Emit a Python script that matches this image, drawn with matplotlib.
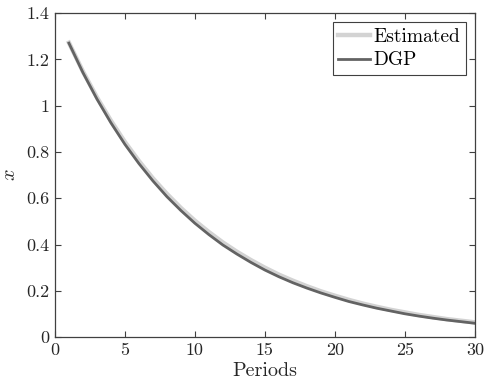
import numpy as np
import matplotlib
matplotlib.use('Agg')
from matplotlib import pyplot as plt
from matplotlib.ticker import FuncFormatter


# values

periods = list(range(1, 31))
dgp = [1.270, 1.143, 1.029, 0.926, 0.833, 0.750, 0.675, 0.607, 0.547, 0.492,
       0.443, 0.398, 0.359, 0.323, 0.290, 0.261, 0.235, 0.212, 0.191, 0.172,
       0.154, 0.139, 0.125, 0.113, 0.101, 0.091, 0.082, 0.074, 0.067, 0.060]
estimated = [1.272, 1.148, 1.036, 0.935, 0.843, 0.761, 0.686, 0.619, 0.558, 0.503,
             0.454, 0.409, 0.369, 0.333, 0.300, 0.270, 0.244, 0.220, 0.198, 0.179,
             0.161, 0.145, 0.131, 0.118, 0.107, 0.096, 0.087, 0.078, 0.071, 0.064]


plt.rcParams['font.family'] = 'serif'
plt.rcParams['font.serif'] = ['cmr10']
plt.rcParams['mathtext.fontset'] = 'cm'
plt.rcParams['axes.unicode_minus'] = False

fig = plt.figure(figsize=(4.86, 3.84), dpi=100)
ax = fig.add_axes([0.113, 0.122, 0.864, 0.844])

ax.plot(periods, estimated, color='#d3d3d3', linewidth=3.2, label='Estimated')
ax.plot(periods, dgp, color='#636363', linewidth=2.0, label='DGP')

ax.set_xlim(0, 30)
ax.set_ylim(0, 1.4)
ax.set_xticks([0, 5, 10, 15, 20, 25, 30])
ax.set_yticks(np.arange(0, 1.41, 0.2))
ax.yaxis.set_major_formatter(FuncFormatter(lambda v, p: '%g' % round(v, 2)))

ax.tick_params(direction='in', top=True, right=True, length=4, width=0.8,
               color='#404040', labelsize=13, labelcolor='#262626', pad=4)
for s in ax.spines.values():
    s.set_color('#404040')
    s.set_linewidth(0.9)

ax.set_xlabel('Periods', fontsize=14.5, color='#262626', labelpad=3)
ax.set_ylabel(r'$x$', fontsize=14.5, color='#262626', labelpad=5)

leg = ax.legend(loc='upper right', fontsize=14, fancybox=False, framealpha=1,
                edgecolor='#404040', handlelength=1.6, handletextpad=0.2,
                borderpad=0.3, labelspacing=0.3, borderaxespad=0.45)
leg.get_frame().set_linewidth(0.8)

fig.savefig('out.png', dpi=100)
